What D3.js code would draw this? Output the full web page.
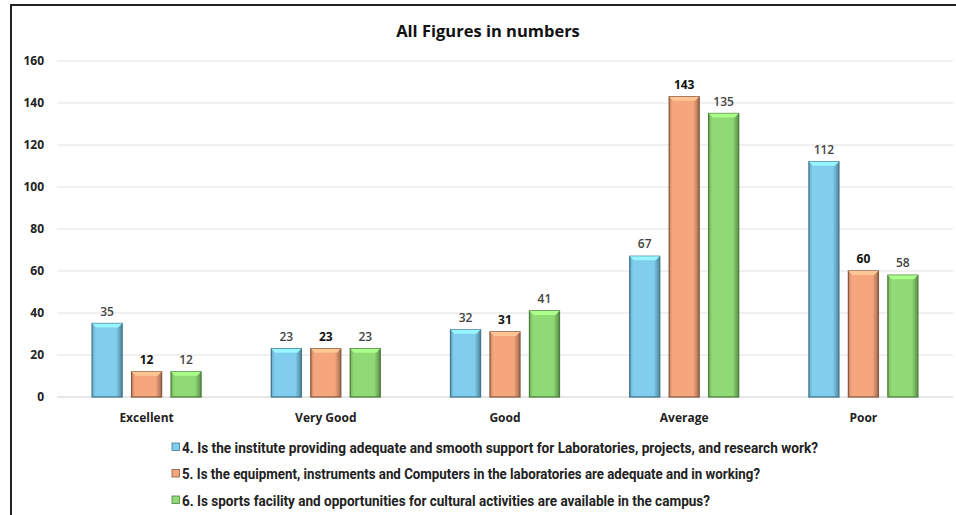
<!DOCTYPE html>
<html>
<head>
<meta charset="utf-8">
<script src="https://cdn.jsdelivr.net/npm/d3@7"></script>
<style>
  body { margin: 0; background: #fff; }
  svg text { font-family: "Roboto", "Open Sans", sans-serif; }
</style>
</head>
<body>
<div id="chart"></div>
<script>
const categories = ["Excellent", "Very Good", "Good", "Average", "Poor"];
const seriesNames = [
    "4.  Is the institute providing adequate and smooth support for Laboratories, projects, and research work?",
    "5.  Is the equipment, instruments and Computers in the laboratories are adequate and in working?",
    "6.  Is sports facility and opportunities for cultural activities are available in the campus?"
];
const q4 = [35, 23, 32, 67, 112];
const q5 = [12, 23, 31, 143, 60];
const q6 = [12, 23, 41, 135, 58];
const yTicks = [0, 20, 40, 60, 80, 100, 120, 140, 160];

const width = 956, height = 515;
const margin = { top: 61, right: 3, bottom: 118, left: 57 };
const colors = ["#80cdee", "#f6a67c", "#8fda74"];
const dark = ["#3f7890", "#8a5a40", "#4d7f3c"];
const series = [q4, q5, q6];
const legendWidths = [636, 578, 528];

const svg = d3.select("#chart").append("svg")
    .attr("width", width)
    .attr("height", height);

// frame
svg.append("rect")
    .attr("x", 11).attr("y", 5)
    .attr("width", 960).attr("height", 530)
    .attr("fill", "#fff")
    .attr("stroke", "#222")
    .attr("stroke-width", 2);

const defs = svg.append("defs");
colors.forEach((c, i) => {
    const g = defs.append("linearGradient").attr("id", "grad" + i)
        .attr("x1", 0).attr("x2", 1).attr("y1", 0).attr("y2", 0);
    g.append("stop").attr("offset", "0%").attr("stop-color", d3.color(c).darker(0.5));
    g.append("stop").attr("offset", "12%").attr("stop-color", c);
    g.append("stop").attr("offset", "80%").attr("stop-color", c);
    g.append("stop").attr("offset", "100%").attr("stop-color", d3.color(c).darker(1.2));
});

const x0 = d3.scaleBand()
    .domain(categories)
    .range([margin.left, width - margin.right]);

const x1 = d3.scaleBand()
    .domain([0, 1, 2])
    .range([0, x0.bandwidth()])
    .paddingInner(0.24)
    .paddingOuter(0.89);

const y = d3.scaleLinear()
    .domain([0, 160])
    .range([height - margin.bottom, margin.top]);

// title
svg.append("text")
    .attr("x", 488).attr("y", 37)
    .attr("text-anchor", "middle")
    .style("font-family", "'Open Sans', sans-serif")
    .style("font-weight", "bold")
    .style("font-size", "16.5px")
    .attr("fill", "#111")
    .text("All Figures in numbers");

// gridlines
svg.append("g")
    .selectAll("line")
    .data(yTicks)
    .enter().append("line")
    .attr("x1", margin.left).attr("x2", width - margin.right)
    .attr("y1", d => y(d)).attr("y2", d => y(d))
    .attr("stroke", d => d === 0 ? "#cfcfcf" : "#e2e2e2")
    .attr("stroke-width", 1.2);

// y axis labels
const yAxis = svg.append("g")
    .attr("transform", `translate(${margin.left - 13},0)`)
    .call(d3.axisLeft(y).tickValues(yTicks).tickSize(0).tickPadding(0));
yAxis.select(".domain").remove();
yAxis.selectAll("text")
    .style("font-family", "'Open Sans', sans-serif")
    .style("font-size", "12px")
    .style("font-weight", "bold")
    .attr("fill", "#222");

// x axis labels
const xAxis = svg.append("g")
    .attr("transform", `translate(0,${height - margin.bottom})`)
    .call(d3.axisBottom(x0).tickSize(0).tickPadding(16));
xAxis.select(".domain").remove();
xAxis.selectAll("text")
    .style("font-family", "'Open Sans', sans-serif")
    .style("font-size", "12px")
    .style("font-weight", "bold")
    .attr("fill", "#222");

// bars
const groups = svg.append("g")
    .selectAll("g")
    .data(categories)
    .enter().append("g")
    .attr("transform", d => `translate(${x0(d)},0)`);

series.forEach((vals, si) => {
    const bar = groups.append("g");
    bar.append("rect")
        .attr("x", x1(si))
        .attr("y", (d, ci) => y(vals[ci]))
        .attr("width", x1.bandwidth())
        .attr("height", (d, ci) => y(0) - y(vals[ci]))
        .attr("fill", `url(#grad${si})`)
        .attr("stroke", dark[si])
        .attr("stroke-width", 1.3);
    // top bevel
    bar.append("path")
        .attr("d", (d, ci) => {
            const bx = x1(si), by = y(vals[ci]), w = x1.bandwidth();
            return `M${bx},${by} L${bx + w},${by} L${bx + w - 4},${by + 4} L${bx + 4},${by + 4} Z`;
        })
        .attr("fill", d3.color(colors[si]).brighter(0.5));
    // labels
    bar.append("text")
        .attr("x", x1(si) + x1.bandwidth() / 2)
        .attr("y", (d, ci) => y(vals[ci]) - 8)
        .attr("text-anchor", "middle")
        .style("font-family", "'Open Sans', sans-serif")
        .style("font-size", "12px")
        .style("font-weight", si === 1 ? "bold" : "600")
        .attr("fill", si === 1 ? "#111" : "#444")
        .text((d, ci) => vals[ci]);
});

// legend
const legend = svg.append("g")
    .selectAll("g")
    .data(seriesNames)
    .enter().append("g")
    .attr("transform", (d, i) => `translate(172,${447 + i * 26.5})`);

legend.append("rect")
    .attr("x", 0).attr("y", -4)
    .attr("width", 7.5).attr("height", 7.5)
    .attr("fill", (d, i) => colors[i])
    .attr("stroke", (d, i) => dark[i])
    .attr("stroke-width", 0.8);

legend.append("text")
    .attr("x", 10).attr("y", 5.5)
    .attr("textLength", (d, i) => legendWidths[i])
    .attr("lengthAdjust", "spacingAndGlyphs")
    .style("font-size", "14.5px")
    .style("font-weight", "bold")
    .attr("fill", "#222")
    .text(d => d);
</script>
</body>
</html>
